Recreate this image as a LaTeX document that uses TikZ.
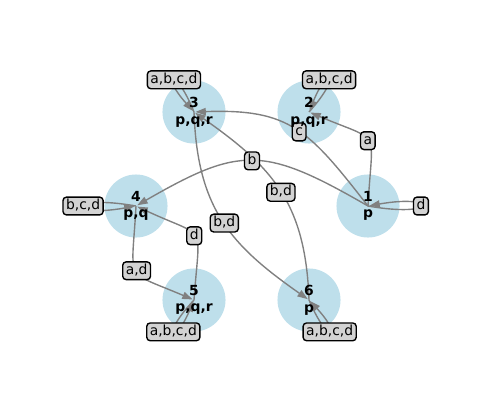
\documentclass[tikz,border=0pt]{standalone}
\usepackage{fontspec}
\setmainfont{DejaVu Sans}
\usepackage{xcolor}
\usepackage{tikz}
\usetikzlibrary{arrows.meta}
\definecolor{stateblue}{RGB}{190,223,235}
\definecolor{edgegray}{RGB}{128,128,128}
\definecolor{labelgray}{RGB}{211,211,211}
\tikzset{
  state/.style={circle, fill=stateblue, minimum size=45.4pt, inner sep=0pt},
  statetext/.style={align=center, inner sep=0pt,
                    font=\bfseries\fontsize{10}{12}\selectfont},
  trans/.style={-{Triangle[length=7.5pt,width=5.2pt]}, draw=edgegray,
                line width=1pt, shorten >=1pt},
  sym/.style={rectangle, draw=black, fill=labelgray, rounded corners=2.5pt,
              line width=1pt, inner xsep=2.2pt, inner ysep=1.4pt,
              text height=7.6pt, text depth=2.4pt,
              font=\fontsize{10}{12}\selectfont}
}

\begin{document}
\begin{tikzpicture}[x=0.72pt, y=0.72pt]
  \useasboundingbox (0,0) rectangle (491,-410);

  \node[state] (s1) at (368,-206) {};
  \node[state] (s2) at (309,-112) {};
  \node[state] (s3) at (194,-112) {};
  \node[state] (s4) at (136,-206) {};
  \node[state] (s5) at (194,-300) {};
  \node[state] (s6) at (309,-300) {};

  \draw[trans] (s1.center) to[out=87, in=-23, looseness=1.85] node[sym] {a} (s2.center);
  \draw[trans] (s1.center) to[out=128, in=2, looseness=1.25] node[sym, pos=0.47] {c} (s3.center);
  \draw[trans] (s6.center) to[out=92, in=-35, looseness=1.12] node[sym, pos=0.49] {b,d} (s3.center);
  \draw[trans] (s1.center) to[out=150, in=30, looseness=1.33] node[sym] {b} (s4.center);
  \draw[trans] (s3.center) to[out=-88, in=145, looseness=1.12] node[sym, pos=0.51] {b,d} (s6.center);
  \draw[trans] (s4.center) to[out=-93, in=157, looseness=1.8] node[sym] {a,d} (s5.center);
  \draw[trans] (s5.center) to[out=86, in=-25, looseness=1.85] node[sym] {d} (s4.center);

  % self loops
  \draw[trans] (s1.center) to[out=-10, in=10, min distance=51.6pt] node[sym] {d} (s1.center);
  \draw[trans] (s2.center) to[out=48, in=68, min distance=37pt] node[sym] {a,b,c,d} (s2.center);
  \draw[trans] (s3.center) to[out=112, in=132, min distance=37pt] node[sym] {a,b,c,d} (s3.center);
  \draw[trans] (s4.center) to[out=170, in=190, min distance=51.6pt] node[sym] {b,c,d} (s4.center);
  \draw[trans] (s5.center) to[out=227, in=247, min distance=37pt] node[sym] {a,b,c,d} (s5.center);
  \draw[trans] (s6.center) to[out=293, in=313, min distance=37pt] node[sym] {a,b,c,d} (s6.center);

  \node[statetext] (t1) at (s1) {1\\p};
  \node[statetext] (t2) at (s2) {2\\p,q,r};
  \node[statetext] (t3) at (s3) {3\\p,q,r};
  \node[statetext] (t4) at (s4) {4\\p,q};
  \node[statetext] (t5) at (s5) {5\\p,q,r};
  \node[statetext] (t6) at (s6) {6\\p};
\end{tikzpicture}
\end{document}
